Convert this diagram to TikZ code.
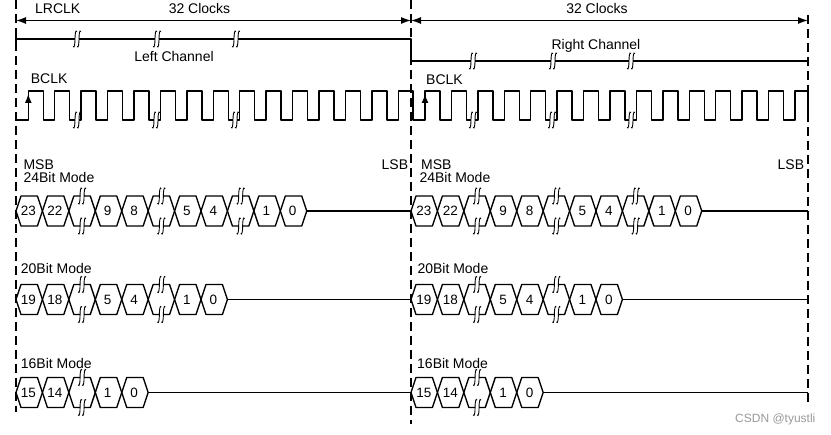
\documentclass[tikz,border=0pt]{standalone}
\usepackage{fontspec}
\setmainfont{Liberation Sans}
\usetikzlibrary{arrows.meta}
\newcommand\myhexrow[5]{% #1 X0, #2 centre y, #3 n cells, #4 break cells, #5 end x
  \foreach \k in {1,...,#3}{%
    \pgfmathsetmacro\xa{#1+26.43*(\k-1)}%
    \pgfmathsetmacro\xb{#1+26.43*\k}%
    \draw[wave] (\xa,#2) -- ({\xa+5},{#2-15}) -- ({\xb-5},{#2-15}) -- (\xb,#2) -- ({\xb-5},{#2+15}) -- ({\xa+5},{#2+15}) -- cycle;
  }%
  \pgfmathsetmacro\xe{#1+26.43*#3}%
  \draw[wave] (\xe,#2) -- (#5,#2);
  \foreach \k in {#4}{%
    \pgfmathsetmacro\xm{#1+26.43*(\k-0.5)}%
    \pic at (\xm,{#2-15}) {brkmark};
    \pic at (\xm,{#2+15}) {brkmark};
  }%
}
\begin{document}
\begin{tikzpicture}[x=1pt,y=-1pt,
  wave/.style={line width=1.35pt, line join=round},
  dashln/.style={line width=1.5pt, dash pattern=on 9pt off 5pt},
  lbl/.style={inner sep=0pt, font=\fontsize{14}{16}\selectfont},
  dig/.style={inner sep=0pt, font=\fontsize{13.5}{15}\selectfont},
  brkmark/.pic={
    \fill[white] (-2,-7.5) rectangle (2,7.5);
    \foreach \s in {-2,2}{
      \draw[line width=0.9pt] ({\s+2},-7.5) .. controls ({\s+0.5},-10) and (\s,-4) .. (\s,0)
        .. controls (\s,4) and ({\s-0.5},10) .. ({\s-2},7.5);
    }
  }
]
\useasboundingbox (0,0) rectangle (831,435);

% dashed channel boundaries
\draw[dashln] (16,0) -- (16,412);
\draw[dashln] (411,0) -- (411,424);
\draw[dashln] (808,15) -- (808,406);

% LRCLK arrows
\coordinate (lA) at (16,20.5);
\coordinate (mA) at (411,20.5);
\coordinate (rA) at (808,20.5);
\draw[line width=1.3pt, {Latex[length=10pt,width=7pt]}-{Latex[length=10pt,width=7pt]}] (lA) -- (mA);
\draw[line width=1.3pt, {Latex[length=10pt,width=7pt]}-{Latex[length=10pt,width=7pt]}] (mA) -- (rA);
\node[lbl, anchor=base west] (lrclk) at (35,14) {LRCLK};
\node[lbl, anchor=base] (clkL) at (199.5,14) {32 Clocks};
\node[lbl, anchor=base] (clkR) at (597,13.5) {32 Clocks};

% channel line
\draw[wave] (16,33) -- (16,45);
\draw[wave] (16,39) -- (411,39) -- (411,61) -- (808,61);
\foreach \x in {77,157,236}{ \pic at (\x,39) {brkmark}; }
\foreach \x in {473,553,631}{ \pic at (\x,61) {brkmark}; }
\node[lbl, anchor=base] (lch) at (174,62) {Left Channel};
\node[lbl, anchor=base] (rch) at (596,50) {Right Channel};

% BCLK
\node[lbl, anchor=base west] (bclkL) at (30.7,84) {BCLK};
\node[lbl, anchor=base west] (bclkR) at (426,85) {BCLK};
\draw[wave] (16,120)
  \foreach \k in {0,...,13}{ -- ({28.3+26.43*\k},120) -- ({28.3+26.43*\k},91) -- ({43.3+26.43*\k},91) -- ({43.3+26.43*\k},120) }
  -- (398.3,120) -- (398.3,91) -- (413,91) -- (413,120)
  \foreach \k in {0,...,13}{ -- ({425+26.43*\k},120) -- ({425+26.43*\k},91) -- ({440+26.43*\k},91) -- ({440+26.43*\k},120) }
  -- (795,120) -- (795,91) -- (808,91) -- (808,120);
\draw[line width=1.35pt, -{Latex[length=9pt,width=7pt]}] (28.3,110) -- (28.3,94);
\draw[line width=1.35pt, -{Latex[length=9pt,width=7pt]}] (425,110) -- (425,94);
\foreach \x in {77,156,235,473,552,631}{ \pic at (\x,120) {brkmark}; }

% MSB / LSB labels
\node[lbl, anchor=base west] (msbL) at (23.3,170) {MSB};
\node[lbl, anchor=base west] (m24L) at (23.3,183) {24Bit Mode};
\node[lbl, anchor=base east] (lsbL) at (408.3,170) {LSB};
\node[lbl, anchor=base west] (msbR) at (421,169.5) {MSB};
\node[lbl, anchor=base west] (m24R) at (419.3,183) {24Bit Mode};
\node[lbl, anchor=base east] (lsbR) at (804.3,169.5) {LSB};
\node[lbl, anchor=base west] (m20L) at (20.7,274) {20Bit Mode};
\node[lbl, anchor=base west] (m20R) at (417.3,274) {20Bit Mode};
\node[lbl, anchor=base west] (m16L) at (20.7,369) {16Bit Mode};
\node[lbl, anchor=base west] (m16R) at (417,369) {16Bit Mode};

% data rows
\myhexrow{16}{211}{11}{3,6,9}{411}
\myhexrow{411}{211}{11}{3,6,9}{808}
\myhexrow{16}{299.5}{8}{3,6}{411}
\myhexrow{411}{299.5}{8}{3,6}{808}
\myhexrow{16}{392.5}{5}{3}{411}
\myhexrow{411}{392.5}{5}{3}{808}

\foreach \i/\t in {1/23,2/22,4/9,5/8,7/5,8/4,10/1,11/0}{
  \node[dig, anchor=base] (a\i) at ({16+26.43*(\i-0.5)-0.8},216) {\t};
  \node[dig, anchor=base] (b\i) at ({411+26.43*(\i-0.5)-0.3},216) {\t};
}
\foreach \i/\t in {1/19,2/18,4/5,5/4,7/1,8/0}{
  \node[dig, anchor=base] (c\i) at ({16+26.43*(\i-0.5)-0.8},304.5) {\t};
  \node[dig, anchor=base] (d\i) at ({411+26.43*(\i-0.5)-0.3},304.5) {\t};
}
\foreach \i/\t in {1/15,2/14,4/1,5/0}{
  \node[dig, anchor=base] (e\i) at ({16+26.43*(\i-0.5)-0.8},397.5) {\t};
  \node[dig, anchor=base] (f\i) at ({411+26.43*(\i-0.5)-0.3},397.5) {\t};
}

% watermark
\node[inner sep=0pt, anchor=base west, text=black!40, font=\fontsize{12}{14}\selectfont] (wm) at (735,423) {CSDN @tyustli};
\end{tikzpicture}
\end{document}
